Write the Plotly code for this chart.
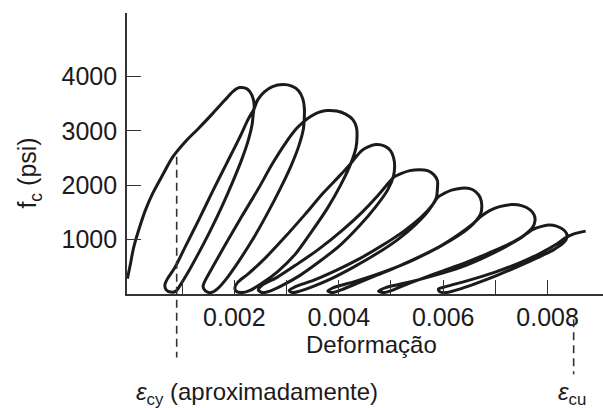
import plotly.graph_objects as go

# ---------------- data (strain, stress in psi) ----------------
env_strain = [-0.00005, 0.0, 0.00007, 0.00019, 0.00030, 0.00044, 0.00063, 0.00082, 0.00106,
              0.00133, 0.00160, 0.00181, 0.00197, 0.00210, 0.00225, 0.00234, 0.00238]
env_stress = [283, 509, 853, 1244, 1551, 1858, 2195, 2520, 2800,
              3060, 3334, 3555, 3720, 3794, 3766, 3647, 3463]

c1_strain = [0.00236, 0.00234, 0.00227, 0.00214, 0.00197, 0.00176, 0.00153, 0.00130, 0.00111, 0.00097,
             0.00088, 0.00078, 0.00069, 0.00067,
             0.00072, 0.00086, 0.00107, 0.00132, 0.00158, 0.00185, 0.00210, 0.00227, 0.00237,
             0.00245, 0.00258, 0.00273, 0.00293, 0.00310, 0.00323, 0.00331, 0.00334, 0.00334]
c1_stress = [3297, 3114, 2838, 2470, 2066, 1606, 1147, 724, 393, 173,
             53, 35, 81, 173,
             283, 485, 890, 1367, 1882, 2397, 2875, 3224, 3389,
             3573, 3720, 3812, 3849, 3821, 3738, 3591, 3426, 3242]

c2_strain = [0.00332, 0.00323, 0.00308, 0.00287, 0.00262, 0.00235, 0.00208, 0.00185, 0.00168, 0.00155,
             0.00144, 0.00140,
             0.00145, 0.00160, 0.00185, 0.00214, 0.00245, 0.00273, 0.00300, 0.00319, 0.00333,
             0.00346, 0.00360, 0.00377, 0.00396, 0.00413, 0.00427, 0.00434, 0.00435]
c2_stress = [3022, 2709, 2342, 1919, 1459, 1000, 596, 283, 99, 26,
             62, 145,
             265, 522, 945, 1423, 1919, 2397, 2801, 3040, 3169,
             3261, 3334, 3371, 3362, 3307, 3205, 3058, 2893]

c3_strain = [0.00433, 0.00423, 0.00404, 0.00379, 0.00348, 0.00316, 0.00283, 0.00252, 0.00229, 0.00214,
             0.00203, 0.00201,
             0.00206, 0.00227, 0.00260, 0.00296, 0.00335, 0.00371, 0.00402, 0.00421, 0.00432,
             0.00444, 0.00455, 0.00471, 0.00488, 0.00499, 0.00505, 0.00507]
c3_stress = [2691, 2397, 2011, 1588, 1147, 724, 412, 191, 62, 26,
             53, 118,
             210, 375, 669, 1037, 1459, 1864, 2176, 2378, 2507,
             2636, 2700, 2746, 2718, 2636, 2507, 2360]

c4_strain = [0.00505, 0.00494, 0.00471, 0.00440, 0.00404, 0.00363, 0.00325, 0.00291, 0.00268, 0.00254,
             0.00246,
             0.00252, 0.00281, 0.00319, 0.00363, 0.00406, 0.00444, 0.00475, 0.00496, 0.00507,
             0.00519, 0.00536, 0.00555, 0.00570, 0.00582, 0.00589, 0.00589]
c4_stress = [2176, 1919, 1606, 1257, 908, 596, 338, 154, 53, 26,
             72,
             154, 301, 540, 834, 1165, 1496, 1809, 2048, 2158,
             2213, 2268, 2286, 2268, 2195, 2084, 1937]

c5_strain = [0.00587, 0.00572, 0.00547, 0.00513, 0.00473, 0.00430, 0.00386, 0.00350, 0.00325, 0.00312,
             0.00305,
             0.00317, 0.00350, 0.00394, 0.00440, 0.00486, 0.00526, 0.00559, 0.00580, 0.00589,
             0.00601, 0.00616, 0.00635, 0.00651, 0.00662, 0.00671, 0.00674]
c5_stress = [1772, 1533, 1276, 1000, 743, 504, 283, 136, 53, 26,
             62,
             136, 246, 430, 651, 908, 1165, 1423, 1643, 1772,
             1845, 1910, 1946, 1937, 1882, 1772, 1625]

c6_strain = [0.00672, 0.00658, 0.00632, 0.00597, 0.00555, 0.00513, 0.00471, 0.00434, 0.00406, 0.00388,
             0.00379,
             0.00390, 0.00430, 0.00482, 0.00536, 0.00586, 0.00626, 0.00655, 0.00672,
             0.00689, 0.00708, 0.00731, 0.00750, 0.00766, 0.00774, 0.00776]
c6_stress = [1478, 1294, 1092, 890, 687, 504, 338, 191, 81, 26,
             53,
             118, 228, 393, 596, 834, 1073, 1276, 1423,
             1533, 1606, 1643, 1625, 1551, 1459, 1349]

c7_strain = [0.00771, 0.00754, 0.00724, 0.00685, 0.00643, 0.00601, 0.00559, 0.00524, 0.00501, 0.00486,
             0.00476,
             0.00490, 0.00532, 0.00582, 0.00632, 0.00678, 0.00720, 0.00750, 0.00771,
             0.00787, 0.00802, 0.00817, 0.00829, 0.00836, 0.00837]
c7_stress = [1220, 1073, 908, 743, 577, 430, 283, 154, 62, 26,
             53,
             118, 210, 338, 485, 669, 871, 1037, 1184,
             1239, 1266, 1248, 1193, 1119, 1037]

c8_strain = [0.00831, 0.00812, 0.00781, 0.00743, 0.00702, 0.00662, 0.00628, 0.00605, 0.00593, 0.00591,
             0.00605, 0.00647, 0.00697, 0.00743, 0.00785, 0.00816, 0.00835, 0.00852, 0.00873]
c8_stress = [945, 816, 669, 504, 338, 191, 81, 26, 44, 90,
             136, 246, 393, 559, 743, 908, 1037, 1110, 1156]

x_tick_vals = [0.002, 0.004, 0.006, 0.008]
x_tick_text = ["0.002", "0.004", "0.006", "0.008"]
x_minor_vals = [0.001, 0.003, 0.005, 0.007]
y_tick_vals = [1000, 2000, 3000, 4000]
y_tick_text = ["1000", "2000", "3000", "4000"]

eps_cy = 0.000895
eps_cu = 0.0085

x_title = "Deformação"
y_title = "f<sub>c</sub> (psi)"
eps_cy_label = "<i>ε</i><sub>cy</sub> (aproximadamente)"
eps_cu_label = "<i>ε</i><sub>cu</sub>"

# ---------------- figure ----------------
strain = (env_strain + c1_strain + c2_strain + c3_strain + c4_strain +
          c5_strain + c6_strain + c7_strain + c8_strain)
stress = (env_stress + c1_stress + c2_stress + c3_stress + c4_stress +
          c5_stress + c6_stress + c7_stress + c8_stress)

INK = "#1c1a1b"
FONT = "Liberation Sans, Arial, Helvetica, sans-serif"

fig = go.Figure()
fig.add_trace(go.Scatter(
    x=strain, y=stress, mode="lines",
    line=dict(color=INK, width=3, shape="spline", smoothing=0.8),
    hoverinfo="skip", showlegend=False,
))

axis_common = dict(showgrid=False, zeroline=False, showline=True, linecolor="#333",
                   linewidth=1.6, ticks="inside", ticklen=14, tickwidth=1.4,
                   tickcolor="#333", tickfont=dict(family=FONT, size=25, color=INK))

fig.update_layout(
    width=603, height=408,
    margin=dict(l=127, r=0, t=13, b=114),
    paper_bgcolor="white", plot_bgcolor="white",
    showlegend=False,
    xaxis=dict(range=[-0.000057, 0.009062], tickmode="array", tickvals=x_tick_vals,
               ticktext=x_tick_text,
               minor=dict(tickmode="array", tickvals=x_minor_vals, ticks="inside",
                          ticklen=14, tickwidth=1.4, tickcolor="#333"),
               **axis_common),
    yaxis=dict(range=[0, 5165], tickmode="array", tickvals=y_tick_vals,
               ticktext=y_tick_text, ticklabelstandoff=3, **axis_common),
    shapes=[
        dict(type="line", xref="x", yref="paper", x0=eps_cy, x1=eps_cy, y0=0.488, y1=-0.226,
             line=dict(color="#333", width=1.6, dash="8px,5px")),
        dict(type="line", xref="x", yref="paper", x0=eps_cu, x1=eps_cu, y0=-0.09, y1=-0.286,
             line=dict(color="#333", width=1.6, dash="8px,5px")),
    ],
    annotations=[
        dict(text=x_title, xref="paper", yref="paper", x=0.514, y=-0.18,
             xanchor="center", yanchor="middle", showarrow=False,
             font=dict(family=FONT, size=24, color=INK)),
        dict(text=y_title, xref="paper", yref="paper", x=-0.205, y=0.43,
             xanchor="center", yanchor="middle", textangle=-90, showarrow=False,
             font=dict(family=FONT, size=25, color=INK)),
        dict(text=eps_cy_label, xref="paper", yref="paper", x=0.014, y=-0.355,
             xanchor="left", yanchor="middle", showarrow=False,
             font=dict(family=FONT, size=24, color=INK)),
        dict(text=eps_cu_label, xref="paper", yref="paper", x=0.935, y=-0.355,
             xanchor="center", yanchor="middle", showarrow=False,
             font=dict(family=FONT, size=24, color=INK)),
    ],
)

fig.write_html("out.html",
               config={"displayModeBar": False},
               post_script="document.body.style.margin='0';document.body.style.overflow='hidden';")
